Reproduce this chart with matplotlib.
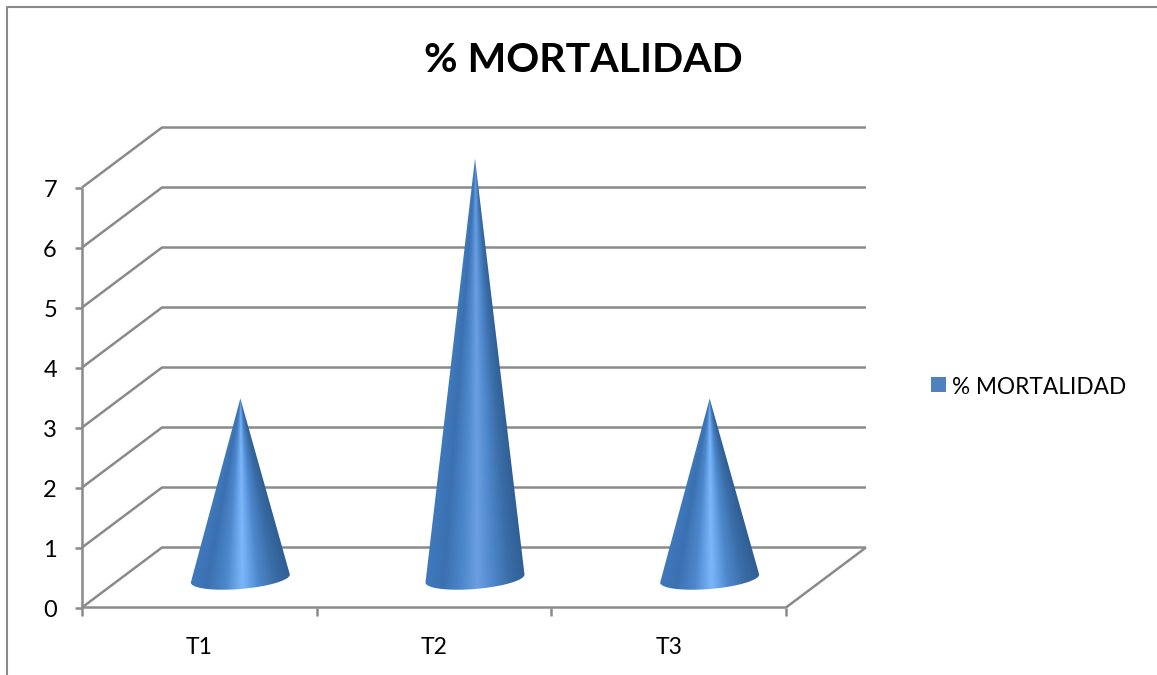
import numpy as np
import matplotlib
matplotlib.use("Agg")
import matplotlib.pyplot as plt
from matplotlib.colors import LinearSegmentedColormap
from matplotlib.patches import Rectangle
from matplotlib.path import Path

categories = ["T1", "T2", "T3"]
values = [3, 7, 3]
y_ticks = [0, 1, 2, 3, 4, 5, 6, 7]
title = "% MORTALIDAD"
series_name = "% MORTALIDAD"

W, H = 1157, 675
GRAY = "#8a8a8a"
plt.rcParams["font.family"] = ["Lato", "DejaVu Sans"]

fig = plt.figure(figsize=(W / 100, H / 100), dpi=100)
fig.patch.set_facecolor("white")

# front plane of the 3D box, in pixels
L, R, T, B = 82, 786, 187.5, 607.5
ax = fig.add_axes([L / W, 1 - B / H, (R - L) / W, (B - T) / H])
ax.axis("off")

n = len(categories)
top = max(y_ticks)
px_x = (R - L) / n
px_y = (B - T) / top
DX = 80 / px_x   # depth offset, data units
DY = 60 / px_y

line = dict(color=GRAY, lw=1.8, clip_on=False, solid_capstyle="butt", solid_joinstyle="miter")

# outer chart frame
fig.add_artist(plt.Line2D([7 / W, 7 / W, 1], [0, 1 - 7 / H, 1 - 7 / H], color=GRAY, lw=1.5))

# walls: gridlines
for v in y_ticks:
    ax.plot([0, DX, n + DX], [v, v + DY, v + DY], **line)
# floor front and side edges
ax.plot([0, n, n + DX], [0, 0, DY], **line)
# value axis
ax.plot([0, 0], [0, top], **line)

# ticks and labels
for v in y_ticks:
    ax.plot([-7 / px_x, 0], [v, v], **line)
    ax.text(-25 / px_x, v - 3 / px_y, str(v), ha="right", va="center", fontsize=17, color="black")
for i in range(n + 1):
    ax.plot([i, i], [0, -8 / px_y], **line)
for i, c in enumerate(categories):
    ax.text(i + 0.5, -40.5 / px_y, c, ha="center", va="center", fontsize=16.5, color="black")


def cone_cmap(peak, mid):
    return LinearSegmentedColormap.from_list("cone", [
        (0.00, "#3f79bd"), (0.18, "#3b71b1"), (0.36, mid),
        (0.52, peak), (0.68, mid), (0.85, "#3a6ca6"), (1.00, "#2f5f94"),
    ])


# cones
ax_x = 49.5 / px_x
ax_y = 4 / px_y
b_y = 10.5 / px_y
shift = 1 / px_x
t = np.linspace(np.pi, 0, 161)  # left to right along the front of the base
for i, v in enumerate(values):
    cx = i + 0.5 + DX / 2 + shift
    cy = DY / 2 - 1 / px_y
    ex = cx + ax_x * np.cos(t)
    ey = cy + ax_y * np.cos(t) - b_y * np.sin(t)
    verts = [(cx, cy + v)] + list(zip(ex, ey)) + [(cx, cy + v)]
    codes = [Path.MOVETO] + [Path.LINETO] * (len(verts) - 2) + [Path.CLOSEPOLY]
    path = Path(verts, codes)

    x0, x1 = cx - 1.1 * ax_x, cx + 1.1 * ax_x
    y0, y1 = cy - 1.5 * b_y, cy + v + 0.02
    xs = np.linspace(x0, x1, 260)
    ys = np.linspace(y0, y1, 600)
    xx, yy = np.meshgrid(xs, ys)
    frac = np.clip((yy - cy) / v, -0.2, 0.999)
    u = np.clip((xx - cx) / (ax_x * (1 - frac)), -1, 1)
    cmap = cone_cmap("#6a9fe2", "#4d86ca") if v > 5 else cone_cmap("#7cb6fb", "#4d88cc")
    im = ax.imshow((u + 1) / 2, extent=(x0, x1, y0, y1), origin="lower", cmap=cmap,
                   vmin=0, vmax=1, aspect="auto", interpolation="bilinear", zorder=5)
    im.set_clip_path(path, ax.transData)
    im.set_clip_box(fig.bbox)

ax.set_xlim(0, n)
ax.set_ylim(0, top)

# legend
fig.add_artist(Rectangle((931 / W, 1 - 392 / H), 15 / W, 15 / H, transform=fig.transFigure,
                         facecolor="#4f81bd", edgecolor="none"))
fig.text(952 / W, 1 - 387 / H, series_name, ha="left", va="center", fontsize=16.3, color="black")

# title
fig.text(583.5 / W, 1 - 61 / H, title, ha="center", va="center", fontsize=29.5, fontweight="bold", color="black")

fig.savefig("out.png", dpi=100)
